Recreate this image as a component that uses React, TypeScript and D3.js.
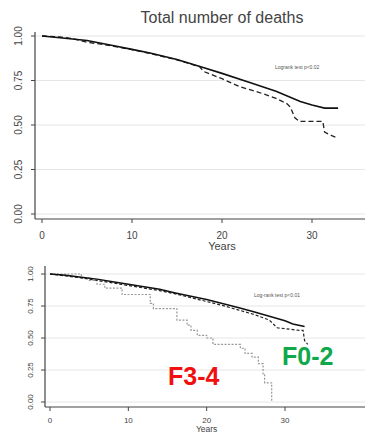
import React, { useEffect, useRef } from "react";
import * as d3 from "d3";

// ---- Data (years, survival) ----
const xTicks = [0, 10, 20, 30];
const yTicks = [0, 0.25, 0.5, 0.75, 1];
const yTickLabels = ["0.00", "0.25", "0.50", "0.75", "1.00"];

// Top panel: total number of deaths
const topSolidT = [0, 2, 5, 8, 10, 12, 15, 18, 20, 23, 26, 28.7, 30, 31.4, 32.9];
const topSolidS = [1, 0.99, 0.975, 0.945, 0.925, 0.904, 0.868, 0.822, 0.79, 0.74, 0.69, 0.632, 0.612, 0.595, 0.595];
const topDashT = [0, 2, 3.5, 5, 6, 8, 10, 12, 15, 17.5, 18, 20, 22, 24, 26, 27.2, 27.6, 28.1, 28.6, 31.2, 31.4, 32.2, 32.9];
const topDashS = [1, 0.995, 0.985, 0.965, 0.958, 0.942, 0.923, 0.902, 0.866, 0.828, 0.8, 0.76, 0.715, 0.685, 0.65, 0.62, 0.6, 0.54, 0.52, 0.52, 0.46, 0.44, 0.425];

// Bottom panel: F0-2 (solid/dashed) and F3-4 (dotted)
const botSolidT = [0, 2, 4, 6, 8, 10, 12, 14, 16, 18, 20, 22, 24, 26, 28, 30, 31, 32.5];
const botSolidS = [1, 0.99, 0.975, 0.96, 0.94, 0.92, 0.9, 0.88, 0.852, 0.826, 0.8, 0.77, 0.738, 0.705, 0.67, 0.635, 0.61, 0.59];
const botDashT = [0, 2, 4, 6, 8, 10, 12, 14, 16, 18, 20, 22, 24, 26, 28, 29, 31.8, 32.3, 32.5, 32.9];
const botDashS = [1, 0.985, 0.97, 0.95, 0.93, 0.91, 0.89, 0.87, 0.845, 0.815, 0.785, 0.755, 0.72, 0.685, 0.64, 0.58, 0.56, 0.56, 0.48, 0.45];
const f34T = [0, 4, 5, 6, 7, 9.2, 12.8, 13.2, 16.2, 17.5, 18, 18.8, 20, 20.8, 24.3, 24.9, 25.8, 26.6, 27.2, 27.4, 28.3];
const f34S = [1, 0.97, 0.95, 0.92, 0.89, 0.84, 0.77, 0.73, 0.64, 0.6, 0.56, 0.52, 0.5, 0.45, 0.42, 0.38, 0.35, 0.3, 0.22, 0.15, 0];

const topLegend = "Logrank test p<0.02";
const botLegend = "Log-rank test p<0.01";

type Series = { t: number[]; s: number[]; color: string; dash: string | null; width: number; step: boolean };

function drawPanel(
  svg: d3.Selection<SVGSVGElement, unknown, null, undefined>,
  cfg: {
    axisX: number; axisTop: number; axisY: number; right: number;
    x0: number; x30: number; y0: number; y1: number;
    tickFont: number; yLabelX: number; xLabelY: number; titleY: number; yearsFont: number;
    series: Series[]; legend: string; legendX: number; legendY: number;
  }
) {
  const x = d3.scaleLinear().domain([0, 30]).range([cfg.x0, cfg.x30]);
  const y = d3.scaleLinear().domain([0, 1]).range([cfg.y0, cfg.y1]);
  const g = svg.append("g");

  // gridlines
  g.selectAll("line.grid").data(yTicks).enter().append("line")
    .attr("x1", cfg.axisX).attr("x2", cfg.right)
    .attr("y1", d => y(d)).attr("y2", d => y(d))
    .attr("stroke", "#e6e6e6").attr("stroke-width", 1);

  // axes
  g.append("line").attr("x1", cfg.axisX).attr("x2", cfg.axisX)
    .attr("y1", cfg.axisTop).attr("y2", cfg.axisY).attr("stroke", "#444").attr("stroke-width", 1.2);
  g.append("line").attr("x1", cfg.axisX).attr("x2", cfg.right)
    .attr("y1", cfg.axisY).attr("y2", cfg.axisY).attr("stroke", "#444").attr("stroke-width", 1.2);

  // y ticks
  g.selectAll("line.yt").data(yTicks).enter().append("line")
    .attr("x1", cfg.axisX - 4).attr("x2", cfg.axisX)
    .attr("y1", d => y(d)).attr("y2", d => y(d)).attr("stroke", "#444");
  g.selectAll("text.yl").data(yTicks).enter().append("text")
    .attr("transform", d => `translate(${cfg.yLabelX},${y(d)}) rotate(-90)`)
    .attr("text-anchor", "middle")
    .attr("font-family", "Liberation Sans, Arial, sans-serif")
    .attr("font-size", cfg.tickFont).attr("fill", "#444")
    .text((d, i) => yTickLabels[i]);

  // x ticks
  g.selectAll("line.xt").data(xTicks).enter().append("line")
    .attr("x1", d => x(d)).attr("x2", d => x(d))
    .attr("y1", cfg.axisY).attr("y2", cfg.axisY + 4).attr("stroke", "#444");
  g.selectAll("text.xl").data(xTicks).enter().append("text")
    .attr("x", d => x(d)).attr("y", cfg.xLabelY)
    .attr("text-anchor", "middle")
    .attr("font-family", "Liberation Sans, Arial, sans-serif")
    .attr("font-size", cfg.tickFont).attr("fill", "#444")
    .text(d => String(d));
  g.append("text").attr("x", x(20)).attr("y", cfg.titleY)
    .attr("text-anchor", "middle")
    .attr("font-family", "Liberation Sans, Arial, sans-serif")
    .attr("font-size", cfg.yearsFont).attr("fill", "#444").text("Years");

  // legend note
  g.append("text").attr("x", cfg.legendX).attr("y", cfg.legendY)
    .attr("font-family", "Liberation Sans, Arial, sans-serif")
    .attr("font-size", 5).attr("fill", "#555").text(cfg.legend);

  cfg.series.forEach(s => {
    const line = d3.line<[number, number]>()
      .x(d => x(d[0])).y(d => y(d[1]))
      .curve(s.step ? d3.curveStepAfter : d3.curveLinear);
    const pts: [number, number][] = s.t.map((t, i) => [t, s.s[i]]);
    g.append("path").attr("d", line(pts) as string)
      .attr("fill", "none").attr("stroke", s.color).attr("stroke-width", s.width)
      .attr("stroke-dasharray", s.dash);
  });
  return { x, y, g };
}

export default function App() {
  const ref = useRef<SVGSVGElement>(null);
  useEffect(() => {
    const svg = d3.select(ref.current as SVGSVGElement);
    svg.selectAll("*").remove();

    svg.append("text").attr("x", 222).attr("y", 23).attr("text-anchor", "middle")
      .attr("font-family", "Liberation Sans, Arial, sans-serif")
      .attr("font-size", 16).attr("fill", "#444").text("Total number of deaths");

    drawPanel(svg, {
      axisX: 35, axisTop: 32, axisY: 219, right: 365,
      x0: 42, x30: 312, y0: 214, y1: 36,
      tickFont: 10, yLabelX: 22, xLabelY: 239, titleY: 250, yearsFont: 11,
      series: [
        { t: topDashT, s: topDashS, color: "#222", dash: "5,3", width: 1.3, step: false },
        { t: topSolidT, s: topSolidS, color: "#111", dash: null, width: 1.6, step: false },
      ],
      legend: topLegend, legendX: 275, legendY: 69,
    });

    const bot = drawPanel(svg, {
      axisX: 45, axisTop: 266, axisY: 407, right: 365,
      x0: 50, x30: 285, y0: 402, y1: 274,
      tickFont: 8, yLabelX: 33, xLabelY: 423, titleY: 432, yearsFont: 8.5,
      series: [
        { t: f34T, s: f34S, color: "#999", dash: "2,1.5", width: 1.2, step: true },
        { t: botDashT, s: botDashS, color: "#222", dash: "3,2", width: 1.2, step: false },
        { t: botSolidT, s: botSolidS, color: "#111", dash: null, width: 1.5, step: false },
      ],
      legend: botLegend, legendX: 254, legendY: 297,
    });

    bot.g.append("text").attr("x", 168).attr("y", 385)
      .attr("font-family", "Liberation Sans, Arial, sans-serif")
      .attr("font-weight", "bold").attr("font-size", 25).attr("fill", "#f01010").text("F3-4");
    bot.g.append("text").attr("x", 282).attr("y", 365)
      .attr("font-family", "Liberation Sans, Arial, sans-serif")
      .attr("font-weight", "bold").attr("font-size", 25).attr("fill", "#10a84a").text("F0-2");
  }, []);

  return (
    <svg ref={ref} width={365} height={436}
      style={{ position: "absolute", left: 0, top: 0, background: "#fff" }} />
  );
}
